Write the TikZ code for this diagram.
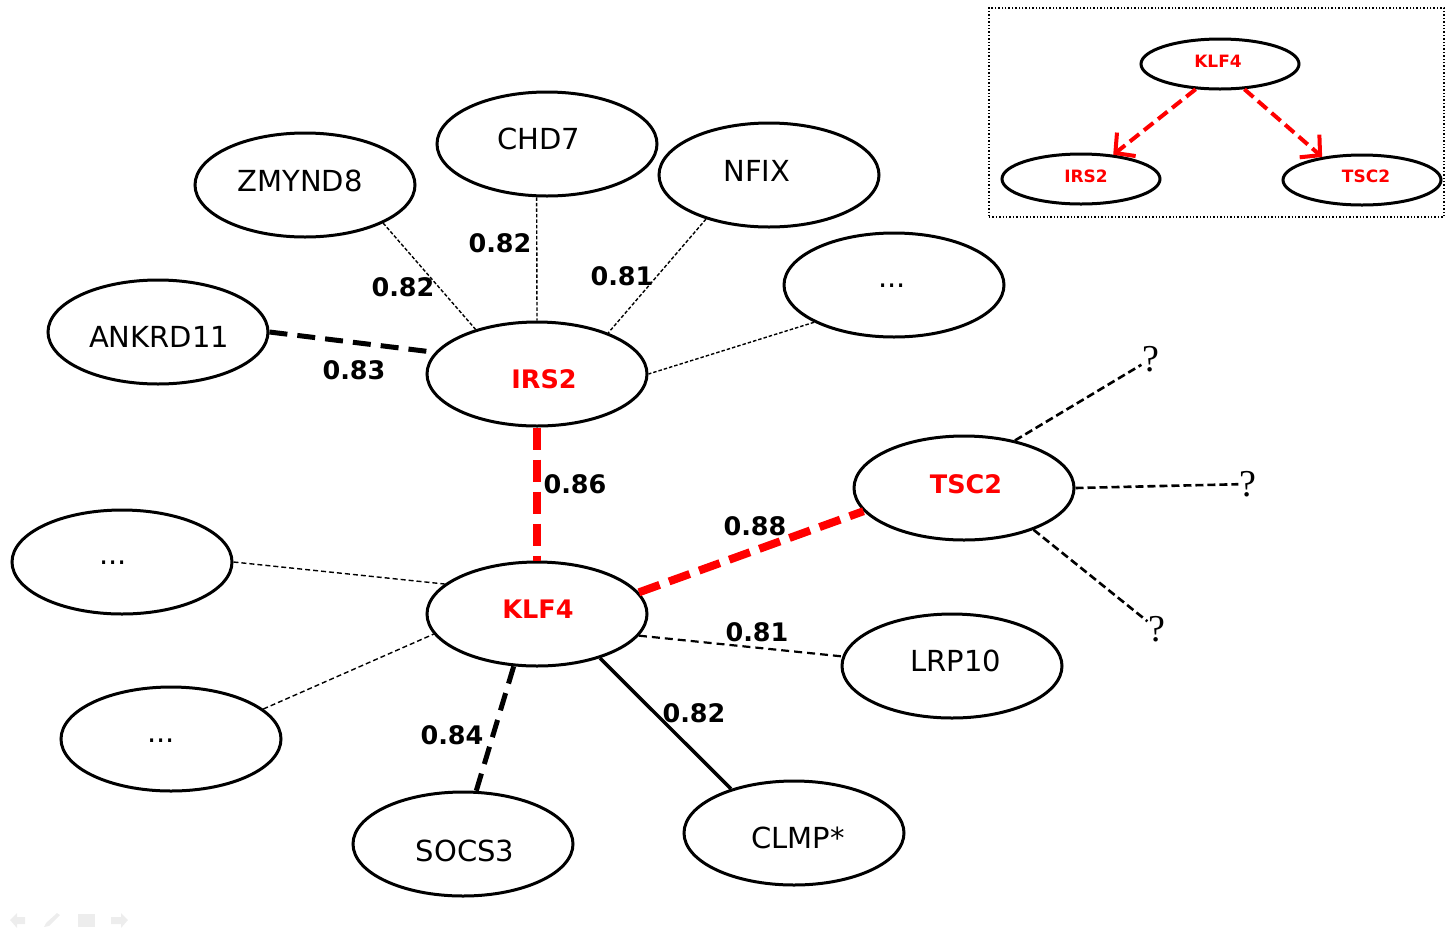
\documentclass[tikz,border=0pt]{standalone}
\usepackage{fontspec}
\setmainfont{DejaVu Sans}
\newfontfamily\qfont{Liberation Serif}
\usetikzlibrary{arrows.meta,shapes.geometric}
\definecolor{hired}{RGB}{255,0,0}
\tikzset{
  gene/.style={draw=black, line width=3pt, ellipse, minimum width=220pt, minimum height=104pt,
    inner sep=0pt},
  genetext/.style={inner sep=0pt, font=\fontsize{29}{34}\selectfont},
  hubtext/.style={inner sep=0pt, text=hired, font=\fontsize{25.5}{30}\selectfont\bfseries},
  small/.style={draw=black, line width=3pt, ellipse, minimum width=158pt, minimum height=50pt,
    inner sep=0pt},
  smalltext/.style={inner sep=0pt, text=hired, font=\fontsize{17}{20}\selectfont\bfseries},
  score/.style={font=\fontsize{25.5}{30}\selectfont\bfseries, inner sep=0pt},
  qmark/.style={font=\qfont\fontsize{38}{40}\selectfont, inner sep=1pt},
  faint/.style={line width=1.4pt, dash pattern=on 3.5pt off 2pt},
  faintb/.style={line width=1.4pt, dash pattern=on 5pt off 3pt},
  medium/.style={line width=2.2pt, dash pattern=on 8pt off 5pt},
  unknown/.style={line width=2.6pt, dash pattern=on 8pt off 4pt},
  heavy/.style={line width=5pt, dash pattern=on 18pt off 10pt},
  redlink/.style={hired, line width=8pt, dash pattern=on 22pt off 10pt},
  solidlink/.style={line width=3.5pt},
  predicted/.style={hired, line width=4pt, dash pattern=on 12pt off 6pt,
    -{Straight Barb[length=14pt,width=30pt,line width=4pt]}},
  navicon/.style={fill=black!7, draw=none}
}
% ellipse outline named #2 at #3, with its label #5 set at #4 in style #1
\newcommand\gn[5][genetext]{\node[gene] (#2) at (#3) {};\node[#1] (#2-t) at (#4) {#5};}
\begin{document}
\begin{tikzpicture}[x=1pt,y=-1pt]
\useasboundingbox (0,0) rectangle (1446,930);

% gene nodes: outline, then its label
\gn{chd7}{547,144}{539,139}{CHD7}
\gn{zmynd8}{305,185}{300,181}{ZMYND8}
\gn{nfix}{769,175}{757,171}{NFIX}
\gn{dotsTR}{894,285}{892,286}{...}
\gn{ankrd11}{158,332}{159,337}{ANKRD11}
\gn[hubtext]{irs2}{537,374}{544,379}{IRS2}
\gn[hubtext]{tsc2}{964,488}{966,484}{TSC2}
\gn{dotsL}{122,562}{113,563}{...}
\gn[hubtext]{klf4}{537,614}{538,609}{KLF4}
\gn{lrp10}{952,666}{956,661}{LRP10}
\gn{dotsBL}{171,739}{161,741}{...}
\gn{socs3}{463,844}{465,851}{SOCS3}
\gn{clmp}{794,833}{798,838}{CLMP*}

% unknown partners of TSC2
\node[qmark] (q1) at (1151,359) {?};
\node[qmark] (q2) at (1248,484) {?};
\node[qmark] (q3) at (1157,629) {?};

% links around IRS2
\draw[faint] (zmynd8.-26) -- (irs2.144);
\draw[faint] (chd7.-101) -- (irs2.90);
\draw[faint] (nfix.215) -- (irs2.30);
\draw[faint] (dotsTR.205) -- (irs2.0);
\draw[heavy] (ankrd11.0) -- (irs2.168);

% hub links
\draw[redlink] (irs2.270) -- (klf4.90);
\draw[redlink] (klf4.12) -- (tsc2.193);

% links around TSC2
\draw[unknown] (tsc2.43) -- (q1);
\draw[unknown] (tsc2.0) -- (q2);
\draw[unknown] (tsc2.-31) -- (q3);

% links around KLF4
\draw[faintb] (dotsL.0) -- (klf4.162);
\draw[faintb] (dotsBL.18) -- (klf4.191);
\draw[medium] (klf4.-12) -- (lrp10.175);
\draw[heavy] (klf4.-114) -- (socs3.76);
\draw[solidlink] (klf4.-35) -- (clmp.145);

% correlation scores
\node[score] (s1) at (403,287) {0.82};
\node[score] (s2) at (500,243) {0.82};
\node[score] (s3) at (622,276) {0.81};
\node[score] (s4) at (354,370) {0.83};
\node[score] (s5) at (575,484) {0.86};
\node[score] (s6) at (755,526) {0.88};
\node[score] (s7) at (757,632) {0.81};
\node[score] (s8) at (694,713) {0.82};
\node[score] (s9) at (452,735) {0.84};

% inset: predicted regulation
\node[draw=black, line width=1.4pt, dotted, minimum width=455pt, minimum height=209pt,
  inner sep=0pt] (inset) at (1216.5,112.5) {};
\node[small] (iklf4) at (1220,64) {};
\node[smalltext] (iklf4-t) at (1218,61) {KLF4};
\node[small] (iirs2) at (1081,179) {};
\node[smalltext] (iirs2-t) at (1086,176) {IRS2};
\node[small] (itsc2) at (1362,180) {};
\node[smalltext] (itsc2-t) at (1366,176) {TSC2};
\draw[predicted] (iklf4.-134) -- (iirs2.37);
\draw[predicted] (iklf4.-46) -- (itsc2.150);

% navigation icons
\fill[navicon] (10,920) -- (17,913) -- (17,917) -- (25,917) -- (25,924) -- (17,924) -- (17,928) -- cycle;
\fill[navicon] (44,927) -- (46,923) -- (57,913) -- (60,915) -- (49,926) -- cycle;
\fill[navicon] (78,914) rectangle (95,927);
\fill[navicon] (128,920) -- (121,913) -- (121,917) -- (111,917) -- (111,924) -- (121,924) -- (121,928) -- cycle;
\end{tikzpicture}
\end{document}
